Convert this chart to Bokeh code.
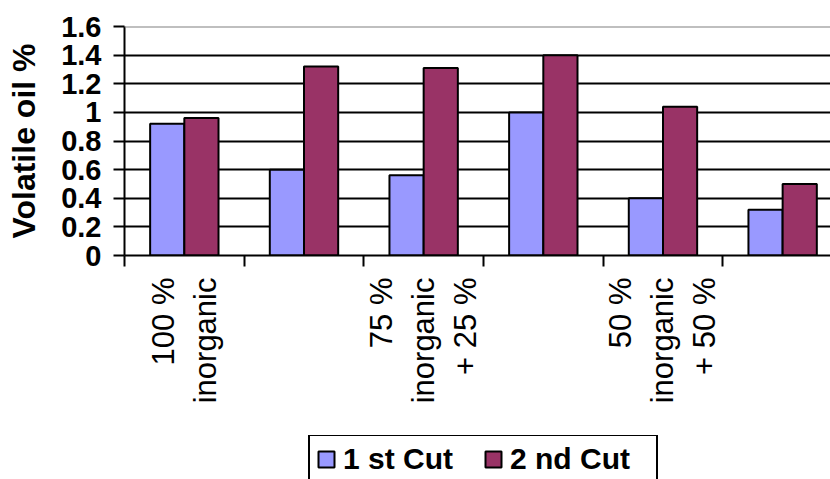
import numpy as np
from bokeh.plotting import figure
from bokeh.layouts import column
from bokeh.models import (ColumnDataSource, Range1d, FixedTicker, Span, Legend, LegendItem)
from bokeh.embed import file_html
from bokeh.resources import INLINE

# ---- data ----
category_labels = ["100 %\ninorganic", "", "75 %\ninorganic\n+ 25 %", "", "50 %\ninorganic\n+ 50 %", ""]
cut1 = [0.92, 0.60, 0.56, 1.00, 0.40, 0.32]
cut2 = [0.96, 1.32, 1.31, 1.40, 1.04, 0.50]
series_names = ["1 st Cut", "2 nd Cut"]
y_ticks = [0, 0.2, 0.4, 0.6, 0.8, 1, 1.2, 1.4, 1.6]
y_tick_labels = ["0", "0.2", "0.4", "0.6", "0.8", "1", "1.2", "1.4", "1.6"]
colors = ["#9999FF", "#993366"]

n = len(cut1)
centers = np.arange(n) + 0.5
bar_w = 1 / 3.5

src = ColumnDataSource(dict(x1=centers - bar_w / 2, x2=centers + bar_w / 2, c1=cut1, c2=cut2))

FONT = "Liberation Sans"

p = figure(width=830, height=435, output_backend="svg", toolbar_location=None,
           x_range=Range1d(0, 5.9), y_range=Range1d(0, 1.6),
           min_border_left=124, min_border_top=26, min_border_right=0, min_border_bottom=180)
p.outline_line_color = None
p.background_fill_color = "white"
p.border_fill_color = "white"

r1 = p.vbar(x="x1", top="c1", width=bar_w, source=src, fill_color=colors[0], line_color="black", line_width=2)
r2 = p.vbar(x="x2", top="c2", width=bar_w, source=src, fill_color=colors[1], line_color="black", line_width=2)

# y axis
p.yaxis.ticker = FixedTicker(ticks=y_ticks)
p.yaxis.major_label_overrides = {t: s for t, s in zip(y_ticks, y_tick_labels)}
p.yaxis.major_tick_out = 11
p.yaxis.major_tick_in = 0
p.yaxis.minor_tick_out = 0
p.yaxis.minor_tick_in = 0
p.yaxis.major_tick_line_width = 2
p.yaxis.axis_line_width = 2
p.yaxis.axis_line_color = "black"
p.yaxis.major_label_text_font = FONT
p.yaxis.major_label_text_font_style = "bold"
p.yaxis.major_label_text_font_size = "29px"
p.yaxis.major_label_text_color = "black"
p.yaxis.major_label_standoff = 12
p.yaxis.axis_label = "Volatile oil %"
p.yaxis.axis_label_text_font = FONT
p.yaxis.axis_label_text_font_style = "bold"
p.yaxis.axis_label_text_font_size = "32px"
p.yaxis.axis_label_text_color = "black"
p.yaxis.axis_label_standoff = 16

# x axis: labels at category centres, boundary ticks as minor ticks
label_pos = [float(c) for c, l in zip(centers, category_labels) if l]
p.xaxis.ticker = FixedTicker(ticks=label_pos, minor_ticks=list(range(n + 1)))
p.xaxis.major_label_overrides = {float(c): l for c, l in zip(centers, category_labels) if l}
p.xaxis.major_tick_out = 0
p.xaxis.major_tick_in = 0
p.xaxis.minor_tick_out = 11
p.xaxis.minor_tick_in = 0
p.xaxis.minor_tick_line_width = 2
p.xaxis.minor_tick_line_color = "black"
p.xaxis.axis_line_width = 2
p.xaxis.axis_line_color = "black"
p.xaxis.major_label_orientation = np.pi / 2
p.xaxis.major_label_text_font = FONT
p.xaxis.major_label_text_font_size = "31px"
p.xaxis.major_label_text_color = "black"
p.xaxis.major_label_standoff = 11

# grid
p.xgrid.visible = False
p.ygrid.ticker = FixedTicker(ticks=y_ticks[1:-1])
p.ygrid.grid_line_color = "black"
p.ygrid.grid_line_width = 2

top_line = Span(location=y_ticks[-1], dimension="width", line_color="#808080", line_width=2)
p.add_layout(top_line)

# ---- legend strip below the chart (its bars sit far outside its visible ranges) ----
lg = figure(width=830, height=44, output_backend="svg", toolbar_location=None,
            x_range=Range1d(-50, -49), y_range=Range1d(50, 51),
            min_border_left=0, min_border_right=0, min_border_top=0, min_border_bottom=0)
lg.outline_line_color = None
lg.axis.visible = False
lg.grid.visible = False
k1 = lg.vbar(x="x1", top="c1", width=bar_w, source=src, fill_color=colors[0], line_color="black", line_width=2)
k2 = lg.vbar(x="x2", top="c2", width=bar_w, source=src, fill_color=colors[1], line_color="black", line_width=2)

legend = Legend(items=[LegendItem(label=series_names[0], renderers=[k1]),
                       LegendItem(label=series_names[1], renderers=[k2])],
                orientation="horizontal", location=(184, -5))
legend.label_text_font = FONT
legend.label_text_font_style = "bold"
legend.label_text_font_size = "30px"
legend.label_text_color = "black"
legend.glyph_width = 20
legend.glyph_height = 20
legend.label_height = 25
legend.label_width = 140
legend.label_standoff = 7
legend.spacing = 0
legend.padding = 6
legend.margin = 0
legend.border_line_color = "black"
legend.border_line_alpha = 1
legend.border_line_width = 2
legend.background_fill_alpha = 1
lg.add_layout(legend)

layout = column(p, lg, spacing=0)
open("out.html", "w").write(file_html(layout, INLINE))
